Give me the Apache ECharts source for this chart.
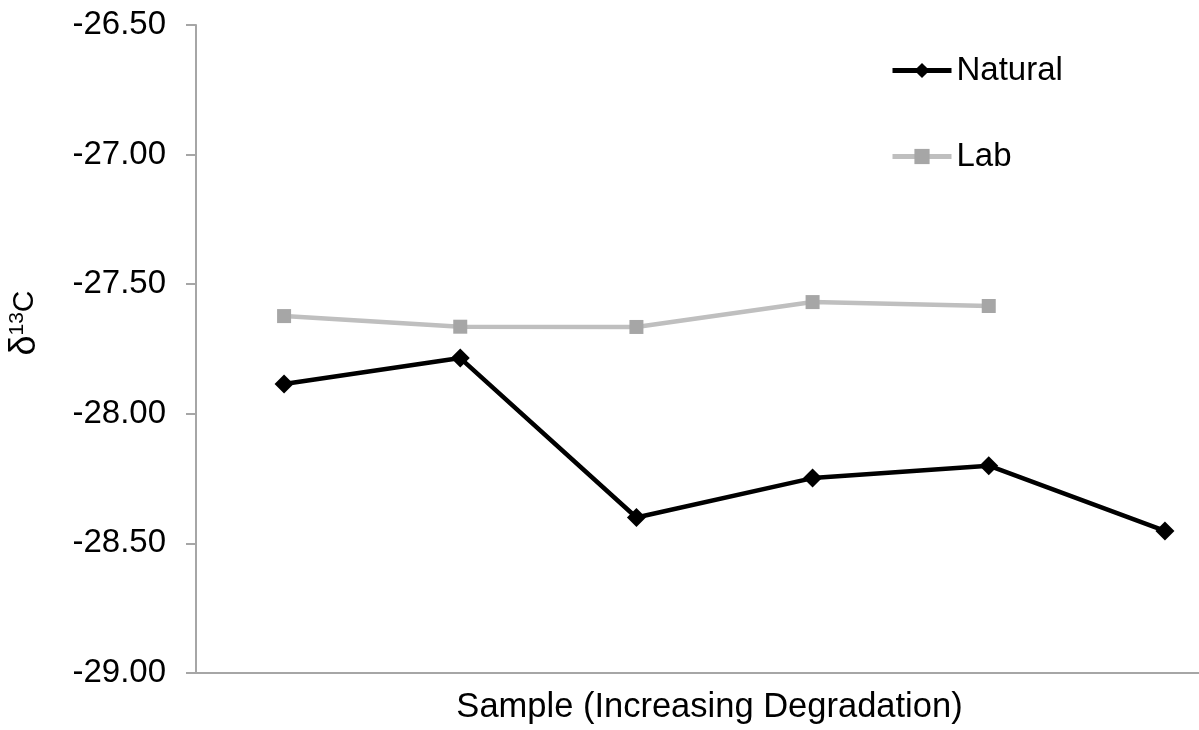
<!DOCTYPE html>
<html>
<head>
<meta charset="utf-8">
<script src="https://cdn.jsdelivr.net/npm/echarts@6/dist/echarts.min.js"></script>
<style>
  html, body { margin: 0; padding: 0; background: #fff; overflow: hidden; width: 1199px; height: 730px; }
  /* the plot runs past the right edge of the page, so the last category is cut */
  #chart { width: 1253px; height: 730px; }
</style>
</head>
<body>
<div id="chart"></div>
<script>
// Samples ordered by increasing degradation
const samples = ['1', '2', '3', '4', '5', '6'];
// δ13C values (‰)
const natural = [-27.885, -27.785, -28.40, -28.248, -28.20, -28.452];
const lab = [-27.623, -27.664, -27.665, -27.569, -27.584, null];
const yTicks = { min: -29, max: -26.5, step: 0.5 };

const FONT = '"Liberation Sans", Arial, sans-serif';
const AXIS_GREY = '#a6a6a6';

const chart = echarts.init(document.getElementById('chart'), null, { renderer: 'canvas' });

chart.setOption({
  backgroundColor: '#ffffff',
  animation: false,
  textStyle: { fontFamily: FONT },
  grid: { left: 196, top: 25, bottom: 57, right: 0, containLabel: false },
  legend: {
    orient: 'vertical',
    left: 885,
    top: 49,
    itemWidth: 59,
    itemHeight: 19,
    itemGap: 53,
    textStyle: { fontFamily: FONT, fontSize: 33, color: '#000' },
    data: [
      { name: 'Natural', lineStyle: { width: 5, color: '#000' } },
      { name: 'Lab', lineStyle: { width: 5, color: '#bfbfbf' } }
    ]
  },
  xAxis: {
    type: 'category',
    data: samples,
    boundaryGap: true,
    name: 'Sample (Increasing Degradation)',
    nameLocation: 'middle',
    nameGap: 17,
    nameTextStyle: { fontFamily: FONT, fontSize: 34.5, color: '#000', padding: [0, 30, 0, 0] },
    axisLine: { lineStyle: { color: AXIS_GREY, width: 2 } },
    axisTick: { show: false },
    axisLabel: { show: false },
    splitLine: { show: false }
  },
  yAxis: {
    type: 'value',
    min: yTicks.min,
    max: yTicks.max,
    interval: yTicks.step,
    axisLine: { show: true, lineStyle: { color: AXIS_GREY, width: 2 } },
    axisTick: { show: true, length: 10, lineStyle: { color: AXIS_GREY, width: 2 } },
    axisLabel: {
      margin: 30,
      fontFamily: FONT,
      fontSize: 33,
      color: '#000',
      formatter: v => v.toFixed(2)
    },
    splitLine: { show: false }
  },
  graphic: [{
    type: 'text',
    x: 25,
    y: 323,
    rotation: Math.PI / 2,
    style: {
      text: '{d|δ}{sup|13}C',
      fontFamily: FONT,
      fontSize: 30,
      fill: '#000',
      align: 'center',
      verticalAlign: 'middle',
      rich: {
        d: { fontFamily: FONT, fontSize: 36, fill: '#000' },
        sup: { fontFamily: FONT, fontSize: 21, fill: '#000', verticalAlign: 'top', padding: [0, 0, 12, 0] }
      }
    }
  }],
  series: [
    {
      name: 'Natural',
      type: 'line',
      data: natural,
      symbol: 'diamond',
      symbolSize: 19,
      lineStyle: { color: '#000', width: 4.5 },
      itemStyle: { color: '#000' },
      z: 3
    },
    {
      name: 'Lab',
      type: 'line',
      data: lab,
      symbol: 'rect',
      symbolSize: 14,
      lineStyle: { color: '#bfbfbf', width: 4.5 },
      itemStyle: { color: '#a6a6a6' },
      z: 2
    }
  ]
});
</script>
</body>
</html>
